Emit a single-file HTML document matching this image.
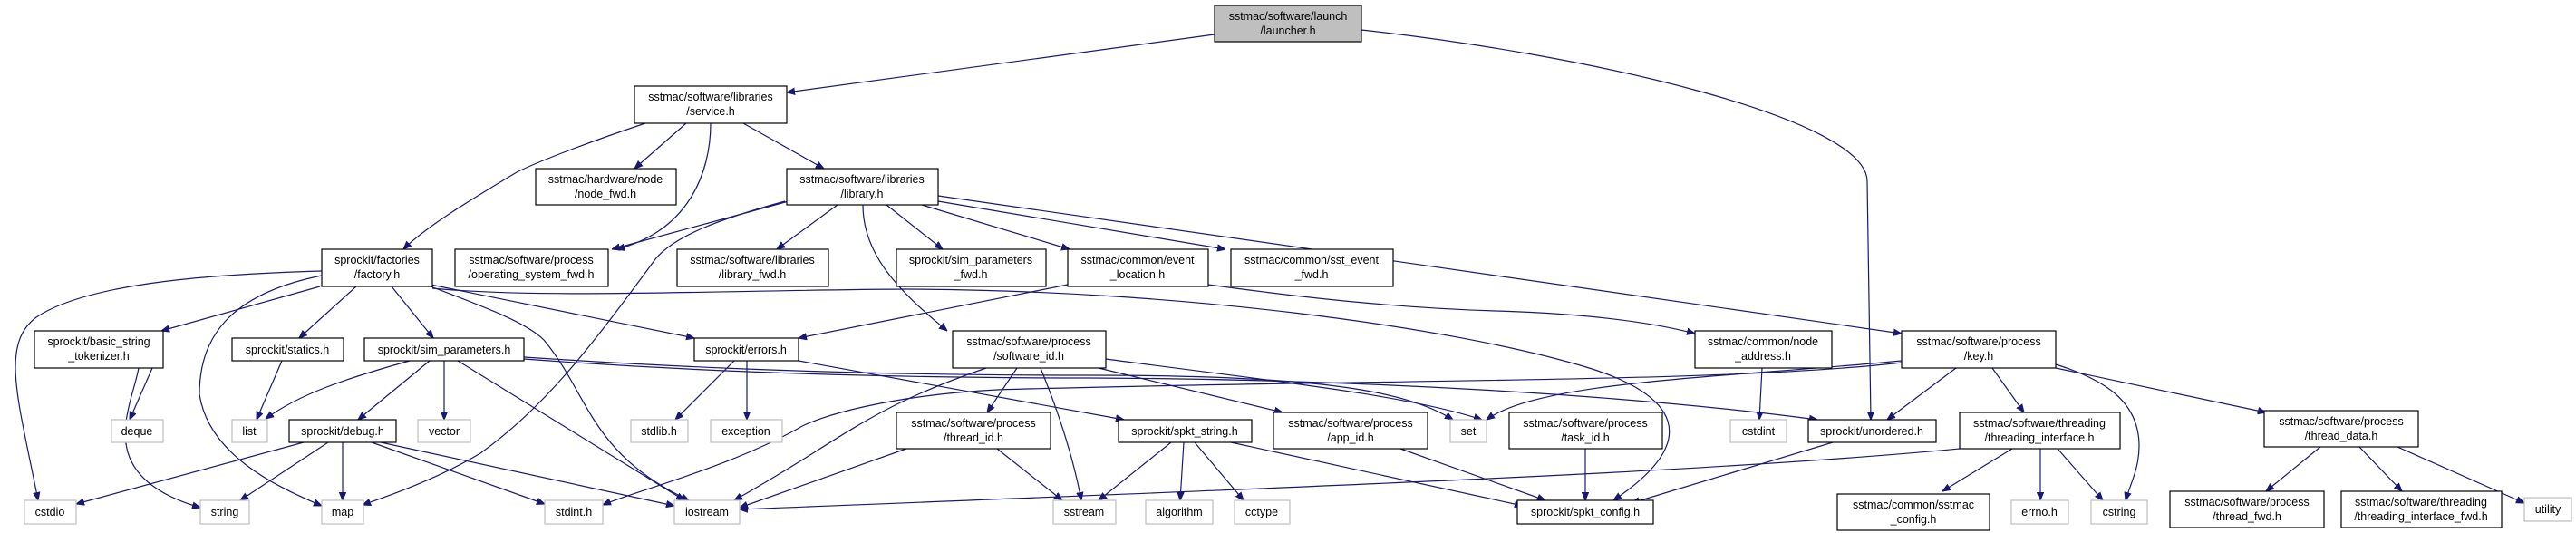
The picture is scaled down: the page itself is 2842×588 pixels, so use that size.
<!DOCTYPE html>
<html><head><meta charset="utf-8"><style>
html,body{margin:0;padding:0;background:#fff;}
svg{display:block;}
text{font-family:"Liberation Sans",sans-serif;font-size:12.5px;fill:#000;text-anchor:middle;}
.n{fill:#fff;stroke:#000;stroke-width:1.2;}
.g{fill:#fff;stroke:#bfbfbf;stroke-width:1.2;}
path{fill:none;stroke:#191970;stroke-width:1.2;}
</style></head><body>
<svg width="2842" height="588" viewBox="0 0 2842 588" xmlns="http://www.w3.org/2000/svg">
<defs><marker id="a" viewBox="0 0 10 10" refX="10" refY="5" markerWidth="9" markerHeight="9" markerUnits="userSpaceOnUse" orient="auto"><path d="M0,1 L10,5 L0,9 z" style="fill:#191970;stroke:#191970"/></marker></defs>
<g marker-end="url(#a)">
<path d="M1340,38 L868,102"/>
<path d="M1502,33 C1750,60 2060,130 2060,200 L2064,463"/>
<path d="M712,136 C640,160 590,180 570,190 C520,220 470,250 445,275"/>
<path d="M757,136 L700,186"/>
<path d="M784,136 C784,190 760,255 680,275"/>
<path d="M820,136 L909,186"/>
<path d="M870,222 L675,275"/>
<path d="M866,222 C800,240 740,260 720,290 C650,385 600,450 530,500 C480,530 420,550 400,557"/>
<path d="M924,226 L857,275"/>
<path d="M978,226 L1040,275"/>
<path d="M1017,226 L1180,275"/>
<path d="M1035,222 L1352,275"/>
<path d="M1035,216 L2098,368"/>
<path d="M952,226 C952,280 990,320 1045,365"/>
<path d="M355,299 C250,302 100,310 40,350 C0,380 20,440 42,552"/>
<path d="M355,304 C250,325 220,375 220,435 C230,500 300,535 355,558"/>
<path d="M353,316 L178,365"/>
<path d="M393,316 L330,373"/>
<path d="M432,316 L478,373"/>
<path d="M475,316 C530,337 580,355 600,375 C650,435 650,500 760,552"/>
<path d="M475,314 L766,373"/>
<path d="M477,318 C600,330 800,320 1000,319 C1300,320 1600,360 1750,405 C1850,435 1880,485 1780,552"/>
<path d="M1333,314 C1450,330 1550,340 1650,343 C1750,346 1820,355 1870,368"/>
<path d="M1178,314 L881,373"/>
<path d="M168,406 L143,463"/>
<path d="M153,406 C145,450 100,525 221,560"/>
<path d="M311,398 L283,463"/>
<path d="M452,398 C380,418 330,435 293,462"/>
<path d="M474,398 L395,463"/>
<path d="M490,398 L490,463"/>
<path d="M505,398 L755,552"/>
<path d="M578,394 C700,402 900,414 1200,414 C1450,414 1550,430 1603,463"/>
<path d="M578,396 C700,405 900,417 1200,417 C1500,418 1800,436 2005,463"/>
<path d="M810,398 L745,463"/>
<path d="M824,398 L824,463"/>
<path d="M881,398 L1240,463"/>
<path d="M335,488 L84,556"/>
<path d="M362,488 L265,552"/>
<path d="M378,488 L378,552"/>
<path d="M410,488 L601,556"/>
<path d="M420,488 L744,558"/>
<path d="M1088,406 C1000,436 960,460 900,498 C870,517 840,535 810,552"/>
<path d="M1122,406 L1089,455"/>
<path d="M1148,406 C1170,460 1185,510 1193,552"/>
<path d="M1212,406 L1415,455"/>
<path d="M1220,396 C1400,420 1550,435 1635,463"/>
<path d="M1000,495 L816,560"/>
<path d="M1100,495 L1172,552"/>
<path d="M1292,488 L1212,552"/>
<path d="M1306,488 L1302,552"/>
<path d="M1318,488 L1372,552"/>
<path d="M1358,488 L1680,558"/>
<path d="M1545,495 L1705,552"/>
<path d="M1749,495 L1749,552"/>
<path d="M1944,406 L1941,463"/>
<path d="M2098,398 C1900,417 1700,420 1640,463"/>
<path d="M2098,400 C1900,423 1500,418 1100,430 C980,436 900,460 880,473 C800,517 700,542 665,557"/>
<path d="M2158,406 L2082,463"/>
<path d="M2198,406 L2233,455"/>
<path d="M2268,402 C2320,418 2360,442 2360,492 C2360,517 2350,535 2345,552"/>
<path d="M2268,406 L2500,455"/>
<path d="M2022,488 L1800,555"/>
<path d="M2162,495 C1900,520 1500,535 816,562"/>
<path d="M2220,495 L2143,542"/>
<path d="M2251,495 L2251,552"/>
<path d="M2270,495 L2320,552"/>
<path d="M2560,493 L2500,542"/>
<path d="M2603,493 L2650,542"/>
<path d="M2645,493 L2785,555"/>
</g>
<!-- nodes -->
<rect x="1340" y="6" width="162" height="40" style="fill:#bfbfbf;stroke:#000;stroke-width:1.2"/>
<text x="1421" y="22">sstmac/software/launch</text><text x="1421" y="38">/launcher.h</text>

<rect class="n" x="700" y="95" width="168" height="41"/><text x="784" y="111">sstmac/software/libraries</text><text x="784" y="127">/service.h</text>
<rect class="n" x="591" y="186" width="155" height="40"/><text x="668" y="202">sstmac/hardware/node</text><text x="668" y="218">/node_fwd.h</text>
<rect class="n" x="868" y="186" width="167" height="40"/><text x="951" y="202">sstmac/software/libraries</text><text x="951" y="218">/library.h</text>

<rect class="n" x="355" y="275" width="122" height="41"/><text x="416" y="291">sprockit/factories</text><text x="416" y="307">/factory.h</text>
<rect class="n" x="502" y="275" width="169" height="41"/><text x="586" y="291">sstmac/software/process</text><text x="586" y="307">/operating_system_fwd.h</text>
<rect class="n" x="747" y="275" width="167" height="41"/><text x="830" y="291">sstmac/software/libraries</text><text x="830" y="307">/library_fwd.h</text>
<rect class="n" x="989" y="275" width="165" height="41"/><text x="1071" y="291">sprockit/sim_parameters</text><text x="1071" y="307">_fwd.h</text>
<rect class="n" x="1178" y="275" width="155" height="41"/><text x="1255" y="291">sstmac/common/event</text><text x="1255" y="307">_location.h</text>
<rect class="n" x="1358" y="275" width="179" height="41"/><text x="1447" y="291">sstmac/common/sst_event</text><text x="1447" y="307">_fwd.h</text>

<rect class="n" x="38" y="365" width="142" height="41"/><text x="109" y="381">sprockit/basic_string</text><text x="109" y="397">_tokenizer.h</text>
<rect class="n" x="256" y="373" width="123" height="25"/><text x="317" y="390">sprockit/statics.h</text>
<rect class="n" x="402" y="373" width="176" height="25"/><text x="490" y="390">sprockit/sim_parameters.h</text>
<rect class="n" x="766" y="373" width="115" height="25"/><text x="823" y="390">sprockit/errors.h</text>
<rect class="n" x="1051" y="365" width="169" height="41"/><text x="1135" y="381">sstmac/software/process</text><text x="1135" y="397">/software_id.h</text>
<rect class="n" x="1870" y="365" width="151" height="41"/><text x="1945" y="381">sstmac/common/node</text><text x="1945" y="397">_address.h</text>
<rect class="n" x="2098" y="365" width="170" height="41"/><text x="2183" y="381">sstmac/software/process</text><text x="2183" y="397">/key.h</text>

<rect class="g" x="123" y="463" width="57" height="25"/><text x="151" y="480">deque</text>
<rect class="g" x="256" y="463" width="39" height="25"/><text x="275" y="480">list</text>
<rect class="n" x="319" y="463" width="118" height="25"/><text x="378" y="480">sprockit/debug.h</text>
<rect class="g" x="461" y="463" width="58" height="25"/><text x="490" y="480">vector</text>
<rect class="g" x="696" y="463" width="63" height="25"/><text x="727" y="480">stdlib.h</text>
<rect class="g" x="784" y="463" width="79" height="25"/><text x="823" y="480">exception</text>
<rect class="n" x="989" y="455" width="170" height="40"/><text x="1074" y="471">sstmac/software/process</text><text x="1074" y="487">/thread_id.h</text>
<rect class="n" x="1234" y="463" width="147" height="25"/><text x="1307" y="480">sprockit/spkt_string.h</text>
<rect class="n" x="1405" y="455" width="170" height="40"/><text x="1490" y="471">sstmac/software/process</text><text x="1490" y="487">/app_id.h</text>
<rect class="g" x="1600" y="463" width="40" height="25"/><text x="1620" y="480">set</text>
<rect class="n" x="1665" y="455" width="169" height="40"/><text x="1749" y="471">sstmac/software/process</text><text x="1749" y="487">/task_id.h</text>
<rect class="g" x="1909" y="463" width="62" height="25"/><text x="1940" y="480">cstdint</text>
<rect class="n" x="1995" y="463" width="141" height="25"/><text x="2065" y="480">sprockit/unordered.h</text>
<rect class="n" x="2162" y="455" width="177" height="40"/><text x="2250" y="471">sstmac/software/threading</text><text x="2250" y="487">/threading_interface.h</text>
<rect class="n" x="2498" y="453" width="170" height="40"/><text x="2583" y="469">sstmac/software/process</text><text x="2583" y="485">/thread_data.h</text>

<rect class="g" x="27" y="552" width="57" height="26"/><text x="55" y="569">cstdio</text>
<rect class="g" x="221" y="552" width="54" height="26"/><text x="248" y="569">string</text>
<rect class="g" x="355" y="552" width="46" height="26"/><text x="378" y="569">map</text>
<rect class="g" x="601" y="552" width="64" height="26"/><text x="633" y="569">stdint.h</text>
<rect class="g" x="744" y="552" width="72" height="26"/><text x="780" y="569">iostream</text>
<rect class="g" x="1162" y="552" width="69" height="26"/><text x="1196" y="569">sstream</text>
<rect class="g" x="1264" y="552" width="74" height="26"/><text x="1301" y="569">algorithm</text>
<rect class="g" x="1362" y="552" width="61" height="26"/><text x="1392" y="569">cctype</text>
<rect class="n" x="1674" y="552" width="150" height="26"/><text x="1749" y="569">sprockit/spkt_config.h</text>
<rect class="n" x="2027" y="545" width="168" height="40"/><text x="2111" y="561">sstmac/common/sstmac</text><text x="2111" y="577">_config.h</text>
<rect class="g" x="2219" y="552" width="63" height="26"/><text x="2250" y="569">errno.h</text>
<rect class="g" x="2307" y="552" width="62" height="26"/><text x="2338" y="569">cstring</text>
<rect class="n" x="2394" y="542" width="170" height="40"/><text x="2479" y="558">sstmac/software/process</text><text x="2479" y="574">/thread_fwd.h</text>
<rect class="n" x="2583" y="542" width="177" height="40"/><text x="2671" y="558">sstmac/software/threading</text><text x="2671" y="574">/threading_interface_fwd.h</text>
<rect class="g" x="2785" y="549" width="52" height="26"/><text x="2811" y="566">utility</text>
</svg>
</body></html>
